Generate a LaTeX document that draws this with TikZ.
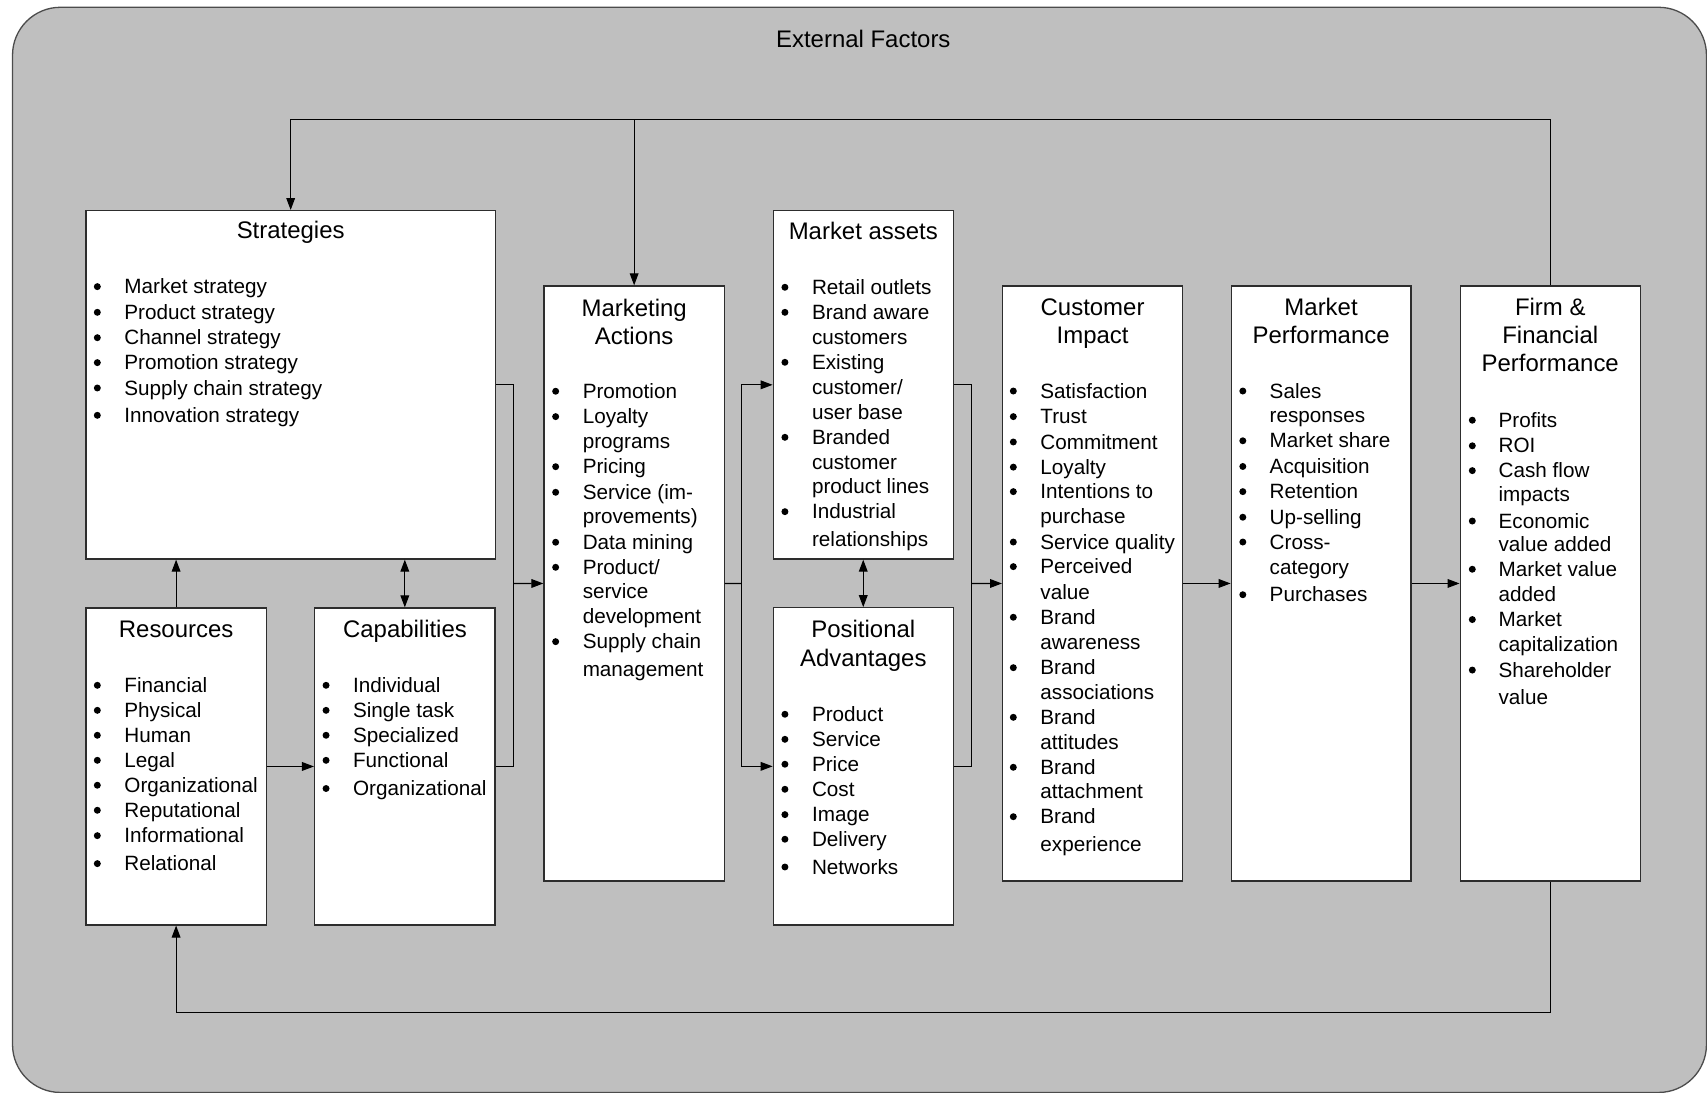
\documentclass[tikz,border=0pt]{standalone}
\usepackage{fontspec}
\setmainfont{Liberation Sans}
\usetikzlibrary{arrows.meta,fit}
\definecolor{bggray}{RGB}{191,191,191}
\definecolor{edge}{RGB}{45,45,45}

% running counter used to name every text line
\newcount\lnum
% bulleted line: y, text (uses \bulx and \txtx of the current box)
\newcommand\bitem[2]{\global\advance\lnum by 1\relax
  \fill[black] (\bulx,#1) circle[radius=1.6pt];
  \node[itm] (l\the\lnum) at (\txtx,{#1+6.5}) {#2};}
% continuation line of a bulleted item
\newcommand\citem[2]{\global\advance\lnum by 1\relax
  \node[itm] (l\the\lnum) at (\txtx,{#1+6.5}) {#2};}
% centred heading line (uses \midx of the current box)
\newcommand\boxtitle[2]{\global\advance\lnum by 1\relax
  \node[hdr] (l\the\lnum) at (\midx,{#1+7.5}) {#2};}

\begin{document}
\begin{tikzpicture}[x=0.5pt,y=-0.5pt,
  box/.style={draw=edge,fill=white,line width=0.6pt,inner sep=0pt,rectangle},
  itm/.style={anchor=base west,inner sep=0pt,font=\fontsize{9.5}{11.5}\selectfont},
  hdr/.style={anchor=base,inner sep=0pt,font=\fontsize{11}{13}\selectfont},
  conn/.style={draw=black,line width=0.5pt},
  arr/.style={conn,-{Triangle[length=5.5pt,width=4pt]}},
  darr/.style={conn,{Triangle[length=5.5pt,width=4pt]}-{Triangle[length=5.5pt,width=4pt]}}]

\useasboundingbox (0,0) rectangle (1568,1004);
% environment frame
\fill[bggray,draw=black!70,line width=0.6pt,rounded corners=22pt]
  (11.5,6.7) rectangle (1567.5,1003.5);
\node[hdr] (ext) at (793,{36+7.5}) {External Factors};

% boxes
\node[box,fit={(79,193.5) (455,513.5)}] (strat) {};
\node[box,fit={(79,558.5) (244.5,849.6)}] (res) {};
\node[box,fit={(289,558.5) (454.7,849.6)}] (cap) {};
\node[box,fit={(499.7,262.7) (665.3,809.2)}] (ma) {};
\node[box,fit={(710.3,193.5) (875.6,513.5)}] (mkas) {};
\node[box,fit={(710.3,558.3) (875.6,849.6)}] (pos) {};
\node[box,fit={(921,262.7) (1086.3,809.2)}] (ci) {};
\node[box,fit={(1131,262.7) (1296,809.2)}] (mp) {};
\node[box,fit={(1341.3,262.7) (1506.6,809.2)}] (firm) {};

% feedback loops
\coordinate (top) at (0,110);
\coordinate (bot) at (0,930.2);
\draw[arr] (firm.north) -- (firm.north |- top) -- (strat.north |- top) -- (strat.north);
\draw[arr] (ma.north |- top) -- (ma.north);
\draw[arr] (firm.south) -- (firm.south |- bot) -- (res.south |- bot) -- (res.south);

% links on the left
\draw[arr] (res.north) -- (res.north |- strat.south);
\draw[darr] (cap.north) -- (cap.north |- strat.south);
\draw[arr] (res.east) -- (cap.west);
\coordinate (j1) at (471.5,536);
\draw[conn] (strat.east) -| (j1);
\draw[conn] (cap.east) -| (j1);
\draw[arr] (j1) -- (ma.west);

% links in the middle
\coordinate (j2) at (681.5,536);
\draw[conn] (ma.east) -- (j2);
\draw[arr] (j2) |- (mkas.west);
\draw[arr] (j2) |- (pos.west);
\draw[darr] (mkas.south) -- (pos.north);
\coordinate (j3) at (892.5,536);
\draw[conn] (mkas.east) -| (j3);
\draw[conn] (pos.east) -| (j3);
\draw[arr] (j3) -- (ci.west);

% links on the right
\draw[arr] (ci.east) -- (mp.west);
\draw[arr] (mp.east) -- (firm.west);

% Strategies
\def\midx{267}\def\bulx{89.4}\def\txtx{113.9}
\boxtitle{211.9}{Strategies}
\bitem{263.3}{Market strategy}
\bitem{286.9}{Product strategy}
\bitem{310.2}{Channel strategy}
\bitem{333.1}{Promotion strategy}
\bitem{356.4}{Supply chain strategy}
\bitem{381.5}{Innovation strategy}

% Resources
\def\midx{161.8}\def\bulx{89.4}\def\txtx{113.9}
\boxtitle{578}{Resources}
\bitem{629.5}{Financial}
\bitem{652.5}{Physical}
\bitem{675.4}{Human}
\bitem{698.4}{Legal}
\bitem{721.3}{Organizational}
\bitem{744.3}{Reputational}
\bitem{767.6}{Informational}
\bitem{793.3}{Relational}

% Capabilities
\def\midx{372}\def\bulx{299.5}\def\txtx{323.9}
\boxtitle{578}{Capabilities}
\bitem{629.5}{Individual}
\bitem{652.5}{Single task}
\bitem{675.4}{Specialized}
\bitem{698.4}{Functional}
\bitem{724.3}{Organizational}

% Marketing Actions
\def\midx{582.5}\def\bulx{510.4}\def\txtx{534.9}
\boxtitle{283.2}{Marketing}
\boxtitle{309.3}{Actions}
\bitem{359.4}{Promotion}
\bitem{382.7}{Loyalty}
\citem{405.7}{programs}
\bitem{428.7}{Pricing}
\bitem{452.2}{Service (im-}
\citem{474.6}{provements)}
\bitem{498.1}{Data mining}
\bitem{521.1}{Product/}
\citem{543.5}{service}
\citem{566.5}{development}
\bitem{589.4}{Supply chain}
\citem{614.8}{management}

% Market assets
\def\midx{793}\def\bulx{721}\def\txtx{745.5}
\boxtitle{212.8}{Market assets}
\bitem{263.9}{Retail outlets}
\bitem{286.9}{Brand aware}
\citem{309.8}{customers}
\bitem{332.8}{Existing}
\citem{355.8}{customer/}
\citem{378.7}{user base}
\bitem{401.7}{Branded}
\citem{424.6}{customer}
\citem{447}{product lines}
\bitem{470}{Industrial}
\citem{495.4}{relationships}

% Positional Advantages
\boxtitle{578}{Positional}
\boxtitle{604.7}{Advantages}
\bitem{656.1}{Product}
\bitem{679.1}{Service}
\bitem{702}{Price}
\bitem{725}{Cost}
\bitem{748.3}{Image}
\bitem{770.9}{Delivery}
\bitem{796.4}{Networks}

% Customer Impact
\def\midx{1003.6}\def\bulx{930.8}\def\txtx{955.3}
\boxtitle{282.1}{Customer}
\boxtitle{308.3}{Impact}
\bitem{359.2}{Satisfaction}
\bitem{382.7}{Trust}
\bitem{406}{Commitment}
\bitem{429.1}{Loyalty}
\bitem{451.6}{Intentions to}
\citem{474.4}{purchase}
\bitem{497.9}{Service quality}
\bitem{520.5}{Perceived}
\citem{544.1}{value}
\bitem{567}{Brand}
\citem{590}{awareness}
\bitem{613.3}{Brand}
\citem{635.9}{associations}
\bitem{658.9}{Brand}
\citem{681.8}{attitudes}
\bitem{704.8}{Brand}
\citem{726.8}{attachment}
\bitem{750.2}{Brand}
\citem{775.5}{experience}

% Market Performance
\def\midx{1213.5}\def\bulx{1141.6}\def\txtx{1165.9}
\boxtitle{282.1}{Market}
\boxtitle{308.3}{Performance}
\bitem{359.2}{Sales}
\citem{382}{responses}
\bitem{404.9}{Market share}
\bitem{428.5}{Acquisition}
\bitem{451.6}{Retention}
\bitem{475.1}{Up-selling}
\bitem{497.9}{Cross-}
\citem{521.1}{category}
\bitem{546.3}{Purchases}

% Firm & Financial Performance
\def\midx{1424}\def\bulx{1352.4}\def\txtx{1376.2}
\boxtitle{282.1}{Firm \&}
\boxtitle{308.3}{Financial}
\boxtitle{334}{Performance}
\bitem{386}{Profits}
\bitem{409.5}{ROI}
\bitem{432.3}{Cash flow}
\citem{454.4}{impacts}
\bitem{478.6}{Economic}
\citem{500}{value added}
\bitem{522.9}{Market value}
\citem{545.6}{added}
\bitem{569.1}{Market}
\citem{592}{capitalization}
\bitem{615.5}{Shareholder}
\citem{640.4}{value}
\end{tikzpicture}
\end{document}
